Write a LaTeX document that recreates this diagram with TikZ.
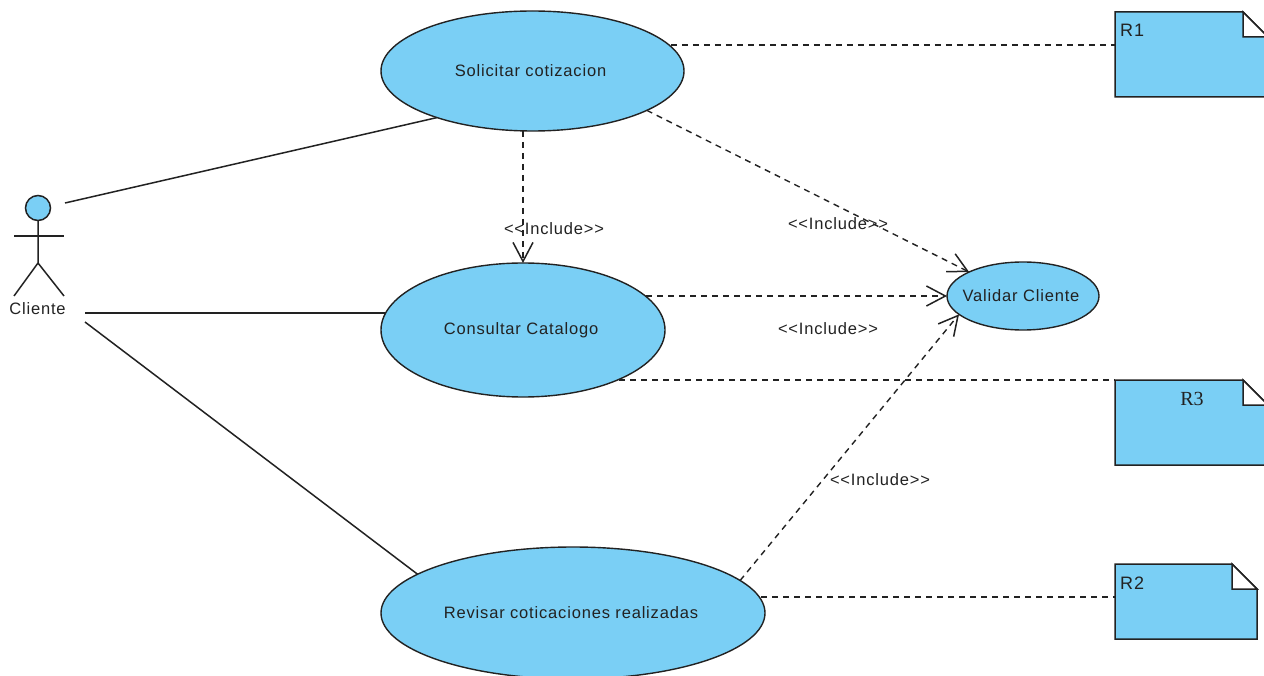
\documentclass[tikz,border=0pt]{standalone}
\usepackage{fontspec}
\setmainfont[LetterSpace=5]{Liberation Sans}
\newfontfamily\rserif{Liberation Serif}
\usetikzlibrary{shapes.geometric,arrows.meta}
\definecolor{ucblue}{RGB}{122,207,245}
\definecolor{ucline}{RGB}{34,34,34}
\tikzset{
  x=1pt,y=-1pt,
  usecase/.style={ellipse,draw=ucline,fill=ucblue,line width=1.4pt,inner sep=0pt,outer sep=0pt,text=ucline,font=\fontsize{16.5}{19}\selectfont},
  notebox/.style={rectangle,inner sep=0pt,outer sep=0pt,anchor=north west},
  notebody/.style={draw=ucline,fill=ucblue,line width=1.5pt,line join=miter},
  notefold/.style={draw=ucline,fill=white,line width=1.5pt},
  assoc/.style={draw=ucline,line width=1.5pt},
  dep/.style={draw=ucline,line width=1.4pt,dash pattern=on 6pt off 5pt},
  inc/.style={dep,-{Straight Barb[length=19pt,width=20pt,line width=1.5pt]}},
  lab/.style={text=ucline,font=\fontsize{16.5}{19}\selectfont,inner sep=0pt},
  notelab/.style={text=ucline,font=\fontsize{18}{21}\selectfont,inner sep=0pt},
  actorline/.style={draw=ucline,line width=1.5pt}
}
\begin{document}
\begin{tikzpicture}
\clip (0,0) rectangle (1264,676);
\fill[white] (0,0) rectangle (1264,676);
% use cases
\node[usecase,minimum width=303pt,minimum height=120pt] (sol) at (532.5,71) {Solicitar cotizacion\kern4pt};
\node[usecase,minimum width=284pt,minimum height=134pt] (con) at (523,330) {Consultar Catalogo\kern4pt};
\node[usecase,minimum width=384pt,minimum height=132pt] (rev) at (573,613) {Revisar coticaciones realizadas\kern4pt};
\node[usecase,minimum width=152pt,minimum height=68pt] (val) at (1023,296) {};
\node[lab] (valt) at (1021,296) {Validar Cliente};
% notes
\node[notebox,minimum width=153pt,minimum height=85pt] (r1) at (1115,12) {};
\node[notebox,minimum width=153pt,minimum height=85pt] (r3) at (1115,380) {};
\node[notebox,minimum width=142pt,minimum height=75pt] (r2) at (1115,564) {};
\draw[notebody] (r1.north west) -- ([xshift=-25pt]r1.north east) -- ([yshift=-25pt]r1.north east) -- (r1.south east) -- (r1.south west) -- cycle;
\draw[notefold] ([xshift=-25pt]r1.north east) -- ([yshift=-25pt]r1.north east) -- ([xshift=-25pt,yshift=-25pt]r1.north east) -- cycle;
\draw[notebody] (r3.north west) -- ([xshift=-25pt]r3.north east) -- ([yshift=-25pt]r3.north east) -- (r3.south east) -- (r3.south west) -- cycle;
\draw[notefold] ([xshift=-25pt]r3.north east) -- ([yshift=-25pt]r3.north east) -- ([xshift=-25pt,yshift=-25pt]r3.north east) -- cycle;
\draw[notebody] (r2.north west) -- ([xshift=-25pt]r2.north east) -- ([yshift=-25pt]r2.north east) -- (r2.south east) -- (r2.south west) -- cycle;
\draw[notefold] ([xshift=-25pt]r2.north east) -- ([yshift=-25pt]r2.north east) -- ([xshift=-25pt,yshift=-25pt]r2.north east) -- cycle;
\node[notelab,anchor=west] (r1t) at (1120,30) {R1};
\node[notelab,anchor=west] (r2t) at (1120,583) {R2};
\node[notelab,font=\rserif\fontsize{20}{23}\selectfont] (r3t) at (1192,399) {R3};
% actor
\node[circle,draw=ucline,fill=ucblue,line width=1.5pt,minimum size=25pt,inner sep=0pt,outer sep=0pt] (head) at (38,208) {};
\coordinate (hip) at (38,263);
\coordinate (armL) at (14,236);
\coordinate (armR) at (64,236);
\coordinate (legL) at (14,296);
\coordinate (legR) at (64,296);
\draw[actorline] (head.south) -- (hip) -- (legL);
\draw[actorline] (hip) -- (legR);
\draw[actorline] (armL) -- (armR);
\node[lab] (cli) at (37.5,309) {Cliente};
\coordinate (a1) at (65,203);
\coordinate (a2) at (85,313);
\coordinate (a3) at (85,322);
% associations
\draw[assoc] (a1) -- (sol.206.2);
\draw[assoc] (a2) -- (a2 -| con.173);
\draw[assoc] (a3) -- (rev.166);
% includes
\draw[inc] (con.north |- sol.south) -- (con.north);
\draw[inc] (sol.-19.5) -- (val.156.4);
\draw[inc] (val.west -| con.15.3) -- (val.west);
\draw[inc] (rev.11.6) -- (val.196.4);
% note links
\coordinate (n1) at (1115,45);
\coordinate (n3) at (1115,380);
\coordinate (n2) at (1115,597);
\draw[dep] (n1 -| sol.10.7) -- (n1);
\draw[dep] (n3 -| con.-27.8) -- (n3);
\draw[dep] (n2 -| rev.4.9) -- (n2);
% labels
\node[lab] (l1) at (554,229) {<{}<Include>{}>};
\node[lab] (l2) at (838,224) {<{}<Include>{}>};
\node[lab] (l3) at (828,329) {<{}<Include>{}>};
\node[lab] (l4) at (880,480) {<{}<Include>{}>};
\end{tikzpicture}
\end{document}
